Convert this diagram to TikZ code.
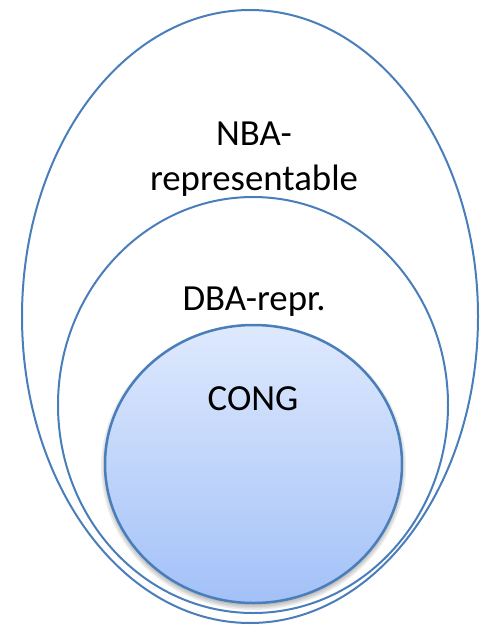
\documentclass[tikz,border=0pt]{standalone}
\usepackage{fontspec}
\setmainfont{Carlito}
\definecolor{edge}{HTML}{4A7EBB}
\definecolor{fillTop}{HTML}{DEE9FD}
\definecolor{fillBot}{HTML}{A3C1F8}
\begin{document}
\begin{tikzpicture}[x=1pt,y=1pt,
  setline/.style={draw=edge,line width=2pt},
  softshadow/.style={fill=black,fill opacity=0.07},
  lbl/.style={font=\fontsize{36.8}{45}\selectfont,anchor=base,inner sep=0pt,align=center}]
\useasboundingbox (0,0) rectangle (481,-626);
\draw[setline] (250,-316.5) ellipse [x radius=228, y radius=306.5];
\draw[setline] (253,-405) ellipse [x radius=195, y radius=208];
\foreach \r in {0,1.5,3,4.5,6}
  \fill[softshadow] (253.5,-467) ellipse [x radius=146.5+\r, y radius=137+\r];
\path[setline,line width=2.5pt,top color=fillTop,bottom color=fillBot]
  (253.5,-464) ellipse [x radius=148.5, y radius=139];
\node[lbl] (nba) at (254,-190) {NBA-\\representable};
\node[lbl] (dba) at (254,-310) {DBA-repr.};
\node[lbl] (cong) at (253,-410) {CONG};
\end{tikzpicture}
\end{document}
